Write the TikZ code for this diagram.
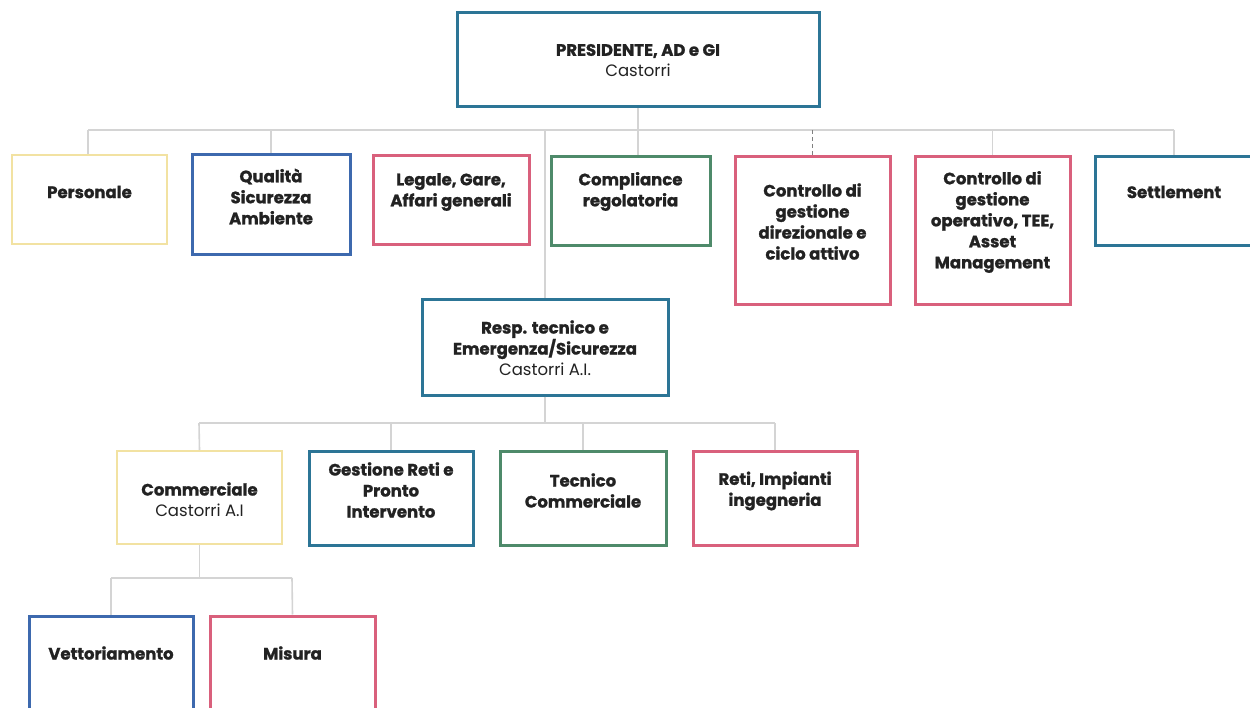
\documentclass[tikz,border=0pt]{standalone}
\usepackage{fontspec}
\setmainfont{Poppins}[BoldFeatures={FakeBold=1.2}]
\definecolor{cyel}{HTML}{F2E2A2}
\definecolor{cblu}{HTML}{3D69AE}
\definecolor{cteal}{HTML}{2C7596}
\definecolor{cpink}{HTML}{D9607C}
\definecolor{cgrn}{HTML}{4E8A6A}
\definecolor{cline}{HTML}{D4D4D4}
\definecolor{ctxt}{HTML}{222222}
\tikzset{
  orgbox/.style={draw=#1, line width=3pt, fill=white, rectangle, inner sep=0pt},
  lbl/.style={align=center, text=ctxt, font=\fontsize{16.5}{21}\selectfont, inner sep=0pt},
  conn/.style={draw=cline, line width=1.6pt},
  dconn/.style={draw=gray, line width=1.4pt, dashed, dash pattern=on 4pt off 3pt},
}
\begin{document}
\begin{tikzpicture}[x=1pt,y=-1pt]
\useasboundingbox (0,0) rectangle (1250,708);
\clip (0,0) rectangle (1250,708);
\fill[white] (0,0) rectangle (1250,708);

% coordinates for bars
\coordinate (b1L) at (88,130);
\coordinate (b1R) at (1174,130);
\coordinate (b2L) at (199,423);
\coordinate (b2R) at (775,423);
\coordinate (b3L) at (111,578);
\coordinate (b3R) at (292,578);

% connectors (drawn first, boxes on top)
\draw[conn] (b1L) -- (b1R);
\draw[conn] (b2L) -- (b2R);
\draw[conn] (b3L) -- (b3R);

% boxes
\node[orgbox=cteal, minimum width=362pt, minimum height=94pt] (pres) at (638,60) {};
\node[orgbox=cyel, line width=2pt, minimum width=155pt, minimum height=89pt] (pers) at (89.5,199.5) {};
\node[orgbox=cblu, minimum width=158pt, minimum height=100pt] (qual) at (271,205) {};
\node[orgbox=cpink, minimum width=156pt, minimum height=89pt] (leg) at (451,200.5) {};
\node[orgbox=cgrn, minimum width=159pt, minimum height=89pt] (comp) at (630.5,201.5) {};
\node[orgbox=cpink, minimum width=155pt, minimum height=148pt] (cdir) at (812.5,231) {};
\node[orgbox=cpink, minimum width=155pt, minimum height=148pt] (cop) at (992.5,231) {};
\node[orgbox=cteal, minimum width=158pt, minimum height=89pt] (sett) at (1174,201.5) {};
\node[orgbox=cteal, minimum width=246pt, minimum height=95pt] (resp) at (545,347.5) {};
\node[orgbox=cyel, line width=2pt, minimum width=165pt, minimum height=93pt] (comm) at (199.5,497.5) {};
\node[orgbox=cteal, minimum width=164pt, minimum height=94pt] (gest) at (391,498) {};
\node[orgbox=cgrn, minimum width=166pt, minimum height=94pt] (tec) at (583,498) {};
\node[orgbox=cpink, minimum width=164pt, minimum height=94pt] (reti) at (775,498) {};
\node[orgbox=cblu, minimum width=164pt, minimum height=100pt] (vett) at (111,666) {};
\node[orgbox=cpink, minimum width=165pt, minimum height=100pt] (mis) at (292.5,666) {};

% vertical connectors
\draw[conn] (pres.south) -- (pres.south |- comp.north);
\draw[conn] (b1L) -- (b1L |- pers.north);
\draw[conn] (qual.north |- b1L) -- (qual.north);
\draw[conn] (resp.north |- b1L) -- (resp.north);
\draw[dconn] (cdir.north |- b1L) -- (cdir.north);
\draw[conn] (cop.north |- b1L) -- (cop.north);
\draw[conn] (b1R) -- (sett.north);
\draw[conn] (resp.south) -- (resp.south |- b2L);
\draw[conn] (b2L) -- (comm.north);
\draw[conn] (gest.north |- b2L) -- (gest.north);
\draw[conn] (tec.north |- b2L) -- (tec.north);
\draw[conn] (b2R) -- (reti.north);
\draw[conn] (comm.south) -- (comm.south |- b3L);
\draw[conn] (b3L) -- (vett.north);
\draw[conn] (b3R) -- (mis.north);

% texts
\node[lbl] (prest) at (638,60.5) {\textbf{PRESIDENTE, AD e GI}\\Castorri};
\node[lbl] (perst) at (89.5,192) {\textbf{Personale}};
\node[lbl] (qualt) at (271,196.5) {\textbf{Qualità}\\\textbf{Sicurezza}\\\textbf{Ambiente}};
\node[lbl] (legt) at (451,192) {\textbf{Legale, Gare,}\\\textbf{Affari generali}};
\node[lbl] (compt) at (630.5,191.5) {\textbf{Compliance}\\\textbf{regolatoria}};
\node[lbl] (cdirt) at (812.5,221.5) {\textbf{Controllo di}\\\textbf{gestione}\\\textbf{direzionale e}\\\textbf{ciclo attivo}};
\node[lbl] (copt) at (992.5,222) {\textbf{Controllo di}\\\textbf{gestione}\\\textbf{operativo, TEE,}\\\textbf{Asset}\\\textbf{Management}};
\node[lbl] (settt) at (1174,192) {\textbf{Settlement}};
\node[lbl] (respt) at (545,348) {\textbf{Resp. tecnico e}\\\textbf{Emergenza/Sicurezza}\\Castorri A.I.};
\node[lbl] (commt) at (199.5,499.5) {\textbf{Commerciale}\\Castorri A.I};
\node[lbl] (gestt) at (391,490) {\textbf{Gestione Reti e}\\\textbf{Pronto}\\\textbf{Intervento}};
\node[lbl] (tect) at (583,490.5) {\textbf{Tecnico}\\\textbf{Commerciale}};
\node[lbl] (retit) at (775,491) {\textbf{Reti, Impianti}\\\textbf{ingegneria}};
\node[lbl] (vettt) at (111,653) {\textbf{Vettoriamento}};
\node[lbl] (mist) at (292.5,653) {\textbf{Misura}};
\end{tikzpicture}
\end{document}
